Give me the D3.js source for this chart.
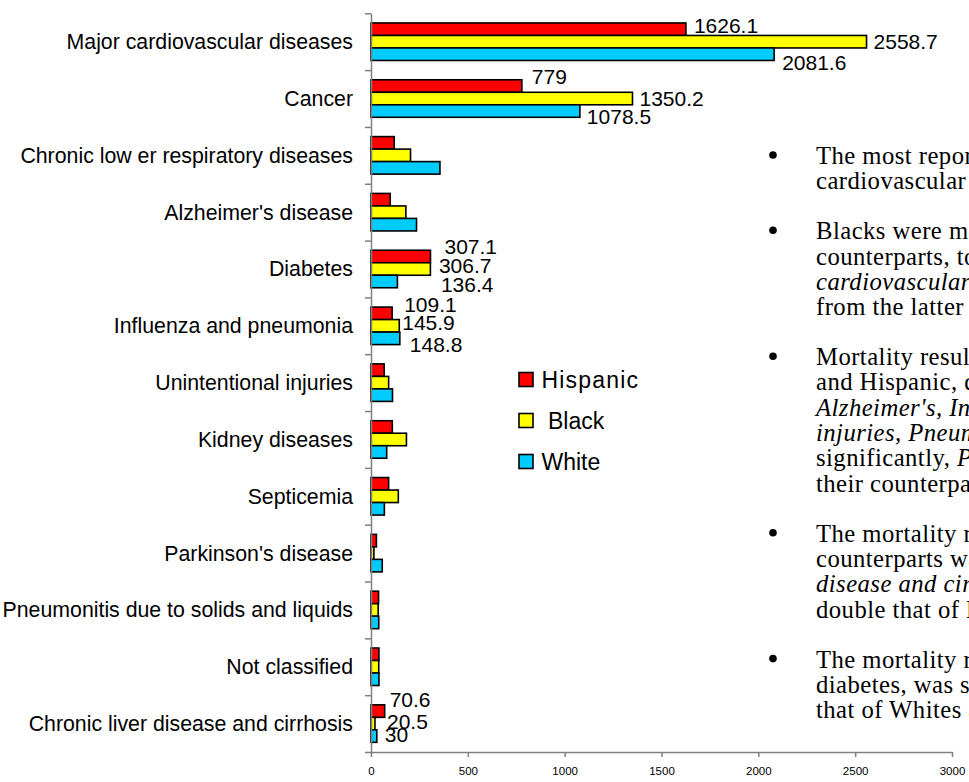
<!DOCTYPE html>
<html>
<head>
<meta charset="utf-8">
<script src="https://cdn.jsdelivr.net/npm/d3@7/dist/d3.min.js"></script>
<style>
  html, body { margin: 0; padding: 0; background: #fff; overflow: hidden; }
  svg { display: block; }
</style>
</head>
<body>
<svg id="chart" width="969" height="782"></svg>
<script>
// ---------- DATA ----------
const categories = [
  "Major cardiovascular diseases",
  "Cancer",
  "Chronic low er respiratory diseases",
  "Alzheimer's disease",
  "Diabetes",
  "Influenza and pneumonia",
  "Unintentional injuries",
  "Kidney diseases",
  "Septicemia",
  "Parkinson's disease",
  "Pneumonitis due to solids and liquids",
  "Not classified",
  "Chronic liver disease and cirrhosis"
];
const seriesNames = ["Hispanic", "Black", "White"];
const hispanic = [1626.1, 779, 120, 99, 307.1, 109.1, 68, 110, 91, 28, 39, 41, 70.6];
const black    = [2558.7, 1350.2, 204, 180, 306.7, 145.9, 91, 183, 141, 15, 37, 40, 20.5];
const white    = [2081.6, 1078.5, 356, 235, 136.4, 148.8, 111, 81, 69, 58, 40, 41, 30];
const xTicks = [0, 500, 1000, 1500, 2000, 2500, 3000];
const labelledCategories = [
  "Major cardiovascular diseases", "Cancer", "Diabetes",
  "Influenza and pneumonia", "Chronic liver disease and cirrhosis"
];
const bullets = [
  [[["The most reported causes of death were major", false]],
   [["cardiovascular diseases and cancer.", false]]],
  [[["Blacks were more likely than their White and Hispanic", false]],
   [["counterparts, to die from cancer and major", false]],
   [["cardiovascular diseases", true], [", with the rate of death", false]],
   [["from the latter being the highest overall.", false]]],
  [[["Mortality resulting from several causes for Whites", false]],
   [["and Hispanic, decreased, namely ", false]],
   [["Alzheimer's, Influenza and pneumonia,", true]],
   [["injuries, Pneumonitis and Not classified", true]],
   [["significantly, ", false], ["Parkinson's disease", true]],
   [["their counterparts.", false]]],
  [[["The mortality rate of Hispanics compared to their", false]],
   [["counterparts was higher for Chronic liver", false]],
   [["disease and cirrhosis", true], [", with a rate", false]],
   [["double that of Blacks.", false]]],
  [[["The mortality rate of Blacks, in the case of", false]],
   [["diabetes, was significantly higher than", false]],
   [["that of Whites and Hispanics.", false]]]
];

// ---------- LAYOUT ----------
const svg = d3.select("#chart");
const colors = { Hispanic: "#FF0000", Black: "#FFFF00", White: "#00CCFF" };
const seriesValues = { Hispanic: hispanic, Black: black, White: white };
const axisColor = "#808080";

const x = d3.scaleLinear().domain([0, 3000]).range([371, 952]);
const yIdx = d3.scaleLinear().domain([0, categories.length]).range([13.3, 752]);
const y = d3.scaleBand().domain(categories).range([13.3, 752]).padding(0);
const bw = y.bandwidth();
const inner = d3.scaleBand().domain(seriesNames).range([bw * 0.17, bw * 0.83]).padding(0);

// bars
const rows = categories.map((c, i) => ({
  cat: c,
  vals: seriesNames.map(s => ({ s, v: seriesValues[s][i] }))
}));
const g = svg.append("g");
const rowG = g.selectAll("g.row").data(rows).join("g")
  .attr("class", "row")
  .attr("transform", d => `translate(0,${y(d.cat)})`);
rowG.selectAll("rect").data(d => d.vals).join("rect")
  .attr("x", x(0))
  .attr("y", d => inner(d.s))
  .attr("width", d => x(d.v) - x(0))
  .attr("height", inner.bandwidth())
  .attr("fill", d => colors[d.s])
  .attr("stroke", "#000")
  .attr("stroke-width", 1.6);

// axes
const xAxis = d3.axisBottom(x).tickValues(xTicks).tickSize(5).tickSizeOuter(0).tickFormat(d3.format("d"));
const xg = svg.append("g").attr("transform", "translate(0,752)").call(xAxis);
xg.select(".domain").attr("stroke", axisColor).attr("stroke-width", 1.5);
xg.selectAll(".tick line").attr("stroke", axisColor).attr("stroke-width", 1.5);
xg.selectAll(".tick text").attr("font-family", "Arial, 'Liberation Sans', sans-serif")
  .attr("font-size", 11.5).attr("fill", "#000").attr("y", 15);

const yAxis = d3.axisLeft(yIdx).tickValues(d3.range(categories.length + 1)).tickSize(6).tickSizeOuter(0).tickFormat("");
const yg = svg.append("g").attr("transform", `translate(${x(0)},0)`).call(yAxis);
yg.select(".domain").attr("stroke", axisColor).attr("stroke-width", 1.5);
yg.selectAll(".tick line").attr("stroke", axisColor).attr("stroke-width", 1.5);

// category labels
svg.append("g").selectAll("text").data(categories).join("text")
  .attr("x", 353)
  .attr("y", d => y(d) + bw / 2)
  .attr("dy", "0.35em")
  .attr("text-anchor", "end")
  .attr("font-family", "Arial, 'Liberation Sans', sans-serif")
  .attr("font-size", 21.3)
  .attr("fill", "#000")
  .text(d => d);

// value labels (placement nudges mimic the original manual placement)
const nudge = {
  "Major cardiovascular diseases": [[8, -4], [7, 0], [8, 8]],
  "Cancer": [[10, -9], [7, 0], [7, 6]],
  "Diabetes": [[14, -10], [8.5, -3], [43.5, 3.5]],
  "Influenza and pneumonia": [[12, -9], [3, -3], [10, 6.7]],
  "Chronic liver disease and cirrhosis": [[5, -11], [12, -2], [8, -1]]
};
const labels = [];
labelledCategories.forEach(c => {
  const i = categories.indexOf(c);
  seriesNames.forEach((s, j) => {
    const v = seriesValues[s][i];
    const n = nudge[c][j];
    labels.push({ v, x: x(v) + n[0], y: y(c) + inner(s) + inner.bandwidth() / 2 + n[1] });
  });
});
svg.append("g").selectAll("text").data(labels).join("text")
  .attr("x", d => d.x)
  .attr("y", d => d.y)
  .attr("dy", "0.35em")
  .attr("font-family", "Arial, 'Liberation Sans', sans-serif")
  .attr("font-size", 21)
  .attr("fill", "#000")
  .text(d => String(d.v));

// legend
const legY = d3.scaleLinear().domain([0, 2]).range([379.5, 461.5]);
const leg = svg.append("g").selectAll("g").data(seriesNames).join("g")
  .attr("transform", (d, i) => `translate(519,${legY(i)})`);
leg.append("rect").attr("x", 0).attr("y", -7).attr("width", 14).attr("height", 14)
  .attr("fill", d => colors[d]).attr("stroke", "#000").attr("stroke-width", 1.6);
leg.append("text")
  .attr("x", d => d === "Black" ? 29 : 22.5)
  .attr("y", 0).attr("dy", "0.35em")
  .attr("font-family", "Arial, 'Liberation Sans', sans-serif")
  .attr("font-size", 23)
  .attr("letter-spacing", d => d === "Hispanic" ? 1.2 : 0)
  .attr("fill", "#000")
  .text(d => d);

// right-hand bullet text
const lineH = 25.3, bulletStep = 50;
let cy = 156;
const tg = svg.append("g")
  .attr("font-family", "'Times New Roman', 'Liberation Serif', serif")
  .attr("font-size", 24.7)
  .attr("fill", "#000");
bullets.forEach((b, bi) => {
  if (bi > 0) cy += bulletStep - lineH;
  tg.append("circle").attr("cx", 773).attr("cy", cy - 1).attr("r", 3.8).attr("fill", "#000");
  b.forEach(line => {
    const t = tg.append("text").attr("x", 816).attr("y", cy).attr("dy", "0.32em")
      .attr("letter-spacing", 0.45);
    line.forEach(seg => {
      t.append("tspan").attr("font-style", seg[1] ? "italic" : "normal").text(seg[0]);
    });
    cy += lineH;
  });
});
</script>
</body>
</html>
